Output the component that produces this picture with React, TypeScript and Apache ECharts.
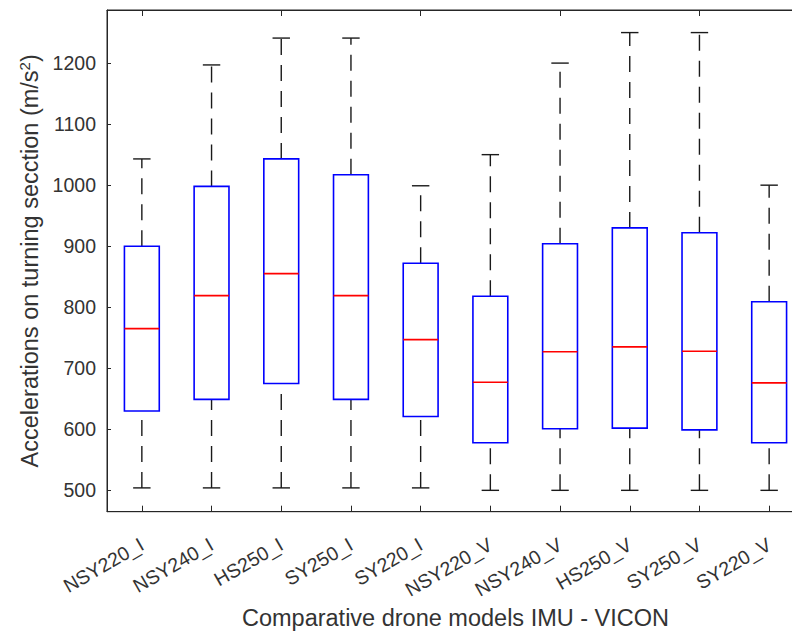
import React, { useEffect, useRef } from 'react';
import * as echarts from 'echarts';

const categories = ['NSY220_I', 'NSY240_I', 'HS250_I', 'SY250_I', 'SY220_I', 'NSY220_V', 'NSY240_V', 'HS250_V', 'SY250_V', 'SY220_V'];
const lowerWhisker = [504, 504, 504, 504, 504, 500, 500, 500, 500, 500];
const q1 = [630, 649, 675, 649, 621, 578, 601, 602, 599, 578];
const median = [765, 819, 855, 819, 747, 677, 727, 735, 728, 676];
const q3 = [900, 998, 1043, 1017, 872, 818, 904, 930, 922, 809];
const upperWhisker = [1043, 1197, 1241, 1241, 999, 1050, 1200, 1250, 1250, 1000];
const yTicks = [500, 600, 700, 800, 900, 1000, 1100, 1200];

const FONT = '"Liberation Sans", Arial, Helvetica, sans-serif';
const AXIS = '#262626';
const TEXT = '#333333';

export default function App() {
  const ref = useRef<HTMLDivElement>(null);
  useEffect(() => {
    if (!ref.current) return;
    const chart = echarts.init(ref.current, undefined, { renderer: 'svg' });
    const data = categories.map((_, i) => [i, lowerWhisker[i], q1[i], median[i], q3[i], upperWhisker[i]]);
    chart.setOption({
      animation: false,
      backgroundColor: '#ffffff',
      textStyle: { fontFamily: FONT },
      grid: { left: 107, right: 16, top: 10, bottom: 122, show: true, borderColor: AXIS, borderWidth: 1 },
      xAxis: [
        {
          type: 'category',
          data: categories,
          position: 'bottom',
          boundaryGap: true,
          axisLine: { show: true, lineStyle: { color: AXIS, width: 1 } },
          axisTick: { show: true, inside: true, alignWithLabel: true, length: 6, lineStyle: { color: AXIS } },
          axisLabel: { rotate: 30, margin: 31, fontSize: 19.5, color: TEXT, fontFamily: FONT, interval: 0 },
          name: 'Comparative drone models IMU - VICON',
          nameLocation: 'middle',
          nameGap: 94,
          nameTextStyle: { fontSize: 23.5, color: TEXT, fontFamily: FONT },
          splitLine: { show: false },
        },
        {
          type: 'category',
          data: categories,
          position: 'top',
          boundaryGap: true,
          axisLine: { show: true, lineStyle: { color: AXIS, width: 1 } },
          axisTick: { show: true, inside: true, alignWithLabel: true, length: 6, lineStyle: { color: AXIS } },
          axisLabel: { show: false },
          splitLine: { show: false },
        },
      ],
      yAxis: {
        type: 'value',
        min: 465,
        max: 1287,
        axisLine: { show: true, lineStyle: { color: AXIS, width: 1 } },
        axisTick: { show: true, inside: true, length: 4, customValues: yTicks, lineStyle: { color: AXIS } },
        axisLabel: {
          customValues: yTicks,
          margin: 11,
          fontSize: 19.5,
          color: TEXT,
          fontFamily: FONT,
          formatter: (v: number) => String(v),
        },
        splitLine: { show: false },
        name: 'Accelerations on turning secction (m/s{sup|2})',
        nameLocation: 'middle',
        nameGap: 63,
        nameRotate: 90,
        nameTextStyle: {
          fontSize: 23.5,
          color: TEXT,
          fontFamily: FONT,
          rich: { sup: { fontSize: 15, verticalAlign: 'top', color: TEXT, fontFamily: FONT, padding: [0, 0, 10, 0] } },
        },
      },
      series: [
        {
          type: 'custom',
          xAxisIndex: 0,
          data,
          renderItem: (params: any, api: any) => {
            const i = api.value(0);
            const band = api.size([1, 0])[0];
            const boxW = band * 0.5;
            const capW = band * 0.25;
            const pLow = api.coord([i, api.value(1)]);
            const pQ1 = api.coord([i, api.value(2)]);
            const pMed = api.coord([i, api.value(3)]);
            const pQ3 = api.coord([i, api.value(4)]);
            const pHigh = api.coord([i, api.value(5)]);
            const x = pLow[0];
            const wStyle = { stroke: '#1a1a1a', lineWidth: 1.4, lineDash: [16, 10] };
            const cStyle = { stroke: '#1a1a1a', lineWidth: 1.4 };
            return {
              type: 'group',
              children: [
                { type: 'line', shape: { x1: x, y1: pLow[1], x2: x, y2: pQ1[1] }, style: wStyle },
                { type: 'line', shape: { x1: x, y1: pQ3[1], x2: x, y2: pHigh[1] }, style: wStyle },
                { type: 'line', shape: { x1: x - capW / 2, y1: pLow[1], x2: x + capW / 2, y2: pLow[1] }, style: cStyle },
                { type: 'line', shape: { x1: x - capW / 2, y1: pHigh[1], x2: x + capW / 2, y2: pHigh[1] }, style: cStyle },
                {
                  type: 'rect',
                  shape: { x: x - boxW / 2, y: pQ3[1], width: boxW, height: pQ1[1] - pQ3[1] },
                  style: { fill: 'none', stroke: '#0000ff', lineWidth: 1.6 },
                },
                {
                  type: 'line',
                  shape: { x1: x - boxW / 2, y1: pMed[1], x2: x + boxW / 2, y2: pMed[1] },
                  style: { stroke: '#ff0000', lineWidth: 1.6 },
                },
              ],
            };
          },
        },
      ],
    });
    return () => chart.dispose();
  }, []);
  return (
    <div style={{ position: 'absolute', left: 0, top: 0, width: 792, height: 635, overflow: 'hidden', background: '#fff' }}>
      <div ref={ref} style={{ position: 'absolute', left: 0, top: 0, width: 820, height: 635 }} />
    </div>
  );
}
